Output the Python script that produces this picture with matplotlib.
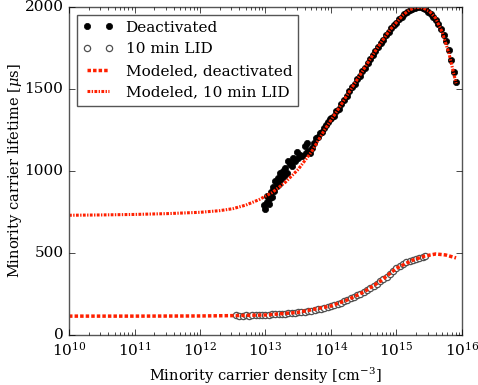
import numpy as np
import matplotlib
matplotlib.use('Agg')
import matplotlib.pyplot as plt

# Measured lifetime, deactivated state (log10 density, lifetime in us)
deact_logn = [12.98, 13.00, 13.02, 13.03, 13.05, 13.06, 13.08, 13.10, 13.12, 13.13,
              13.15, 13.17, 13.19, 13.20, 13.22, 13.24, 13.26, 13.28, 13.30, 13.33,
              13.35, 13.37, 13.40, 13.42, 13.45, 13.48, 13.50, 13.53, 13.56, 13.60,
              13.62, 13.63, 13.65, 13.68, 13.71, 13.74, 13.77, 13.80, 13.83, 13.86,
              13.89, 13.92, 13.95, 13.98,
              14.00, 14.04, 14.08, 14.12, 14.16, 14.20, 14.24, 14.28, 14.32, 14.36,
              14.40, 14.44, 14.48, 14.52, 14.56, 14.60, 14.64, 14.68, 14.72, 14.76,
              14.80, 14.84, 14.88, 14.92, 14.96, 15.00, 15.04, 15.08, 15.12, 15.16,
              15.20, 15.24, 15.28, 15.32, 15.36, 15.40, 15.44, 15.48, 15.52, 15.56,
              15.60, 15.64, 15.68, 15.72, 15.76, 15.80, 15.84, 15.88, 15.91]
deact_tau = [790, 770, 810, 850, 800, 830, 870, 840, 900, 880,
             940, 910, 960, 920, 990, 950, 1000, 970, 1020, 990,
             1060, 1040, 1030, 1080, 1060, 1115, 1080, 1100, 1090, 1150,
             1110, 1170, 1120, 1110, 1140, 1170, 1200, 1210, 1230, 1240,
             1265, 1280, 1300, 1315,
             1320, 1335, 1365, 1380, 1410, 1435, 1460, 1490, 1510, 1530,
             1560, 1580, 1610, 1630, 1660, 1685, 1705, 1730, 1755, 1780,
             1800, 1830, 1850, 1870, 1890, 1905, 1925, 1940, 1955, 1970,
             1980, 1990, 1995, 1998, 1998, 1993, 1985, 1972, 1955, 1940,
             1920, 1895, 1865, 1830, 1790, 1740, 1675, 1605, 1540]

# Measured lifetime after 10 min LID
lid_logn = [12.55, 12.60, 12.65, 12.70, 12.75, 12.80, 12.85, 12.90, 12.95, 13.00,
            13.05, 13.10, 13.15, 13.20, 13.25, 13.30, 13.35, 13.40, 13.45, 13.50,
            13.55, 13.60, 13.65, 13.70, 13.75, 13.80, 13.85, 13.90, 13.95, 14.00,
            14.05, 14.10, 14.15, 14.20, 14.25, 14.30, 14.35, 14.40, 14.45, 14.50,
            14.55, 14.60, 14.65, 14.70, 14.75, 14.80, 14.85, 14.90, 14.95, 15.00,
            15.05, 15.10, 15.15, 15.20, 15.25, 15.30, 15.35, 15.40, 15.43]
lid_tau = [120, 118, 117, 119, 118, 120, 119, 121, 121, 122,
           123, 125, 126, 127, 129, 130, 132, 134, 136, 138,
           140, 142, 145, 148, 152, 156, 160, 165, 171, 177,
           184, 191, 198, 206, 214, 223, 232, 242, 252, 262,
           274, 287, 300, 313, 327, 341, 355, 370, 389, 407,
           420, 432, 442, 450, 457, 465, 471, 477, 481]

# Model curves
mod_deact_logn = [10.0, 11.0, 12.0, 12.5, 13.0, 13.5, 14.0, 14.25, 14.5, 14.75,
                  15.0, 15.25, 15.43, 15.6, 15.75, 15.91]
mod_deact_tau = [115, 115, 116, 118, 122, 138, 177, 214, 262, 327,
                 407, 457, 481, 494, 488, 470]

mod_lid_logn = [10.0, 10.5, 11.0, 11.5, 12.0, 12.3, 12.5, 12.7, 12.9, 13.1,
                13.3, 13.5, 13.7, 13.9, 14.1, 14.3, 14.5, 14.7, 14.9, 15.1,
                15.2, 15.3, 15.4, 15.5, 15.6, 15.7, 15.8, 15.91]
mod_lid_tau = [730, 732, 735, 740, 748, 758, 770, 792, 825, 868,
               930, 1010, 1115, 1250, 1370, 1495, 1620, 1745, 1860, 1950,
               1982, 1998, 1995, 1975, 1930, 1845, 1720, 1535]

plt.style.use('classic')
plt.rcParams['font.family'] = 'serif'
plt.rcParams['font.serif'] = ['DejaVu Serif']
plt.rcParams['mathtext.fontset'] = 'dejavuserif'

fig = plt.figure(figsize=(4.78, 3.85), dpi=100, facecolor='white')
ax = fig.add_axes([0.1444, 0.1299, 0.822, 0.852])

ax.plot(10 ** np.array(deact_logn), deact_tau, 'o', color='black', mec='black',
        ms=4.5, label='Deactivated')
ax.plot(10 ** np.array(lid_logn), lid_tau, 'o', mfc='white', mec='#505050',
        mew=0.9, ms=4.5, label='10 min LID')
ax.plot(10 ** np.array(mod_deact_logn), mod_deact_tau, '--', color='#ff2000',
        lw=2.5, dashes=(2.5, 1.5), label='Modeled, deactivated')
ax.plot(10 ** np.array(mod_lid_logn), mod_lid_tau, '-.', color='#ff2000',
        lw=2.2, dashes=(2, 1, 1, 1), label='Modeled, 10 min LID')

ax.set_xscale('log')
ax.set_xlim(1e10, 1e16)
ax.set_ylim(0, 2000)
ax.set_yticks([0, 500, 1000, 1500, 2000])
ax.tick_params(labelsize=11)
ax.set_xlabel('Minority carrier density [cm$^{-3}$]', fontsize=10.5)
ax.set_ylabel(r'Minority carrier lifetime [$\mu$s]', fontsize=10.5)
ax.yaxis.set_label_coords(-0.115, 0.5)
for s in ax.spines.values():
    s.set_color('#555555')

leg = ax.legend(loc='upper left', numpoints=2, fontsize=11, fancybox=False,
                handlelength=2.0, borderaxespad=0.5)
leg.get_frame().set_edgecolor('#555555')

fig.savefig('out.png', dpi=100, facecolor='white')
